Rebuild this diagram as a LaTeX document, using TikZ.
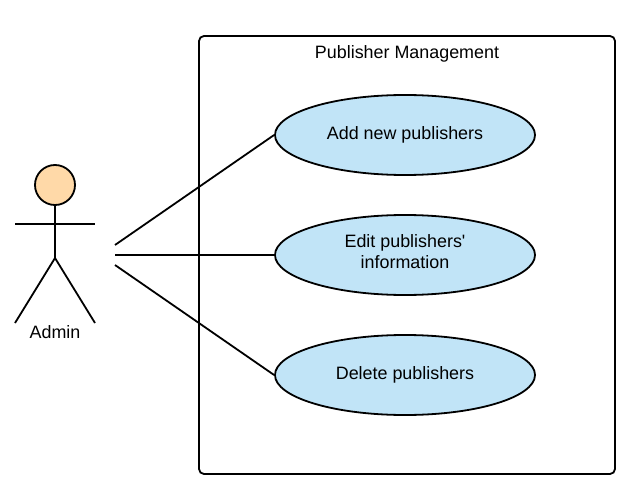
\documentclass[tikz,border=0pt]{standalone}
\usepackage{fontspec}
\setmainfont{Liberation Sans}
\newfontfamily\straightfont{Liberation Sans}
\usetikzlibrary{shapes.geometric}
\definecolor{usecase}{HTML}{C1E4F7}
\definecolor{headfill}{HTML}{FFD9A8}
\tikzset{
  ln/.style={line width=1.8pt,black},
  usecasebox/.style={ellipse,draw=black,line width=1.8pt,fill=usecase,minimum width=260pt,minimum height=80pt,inner sep=0pt,align=center,font=\fontsize{17.9pt}{21pt}\selectfont},
  lbl/.style={inner sep=0pt,font=\fontsize{17.9pt}{21pt}\selectfont\straightfont,anchor=center},
  framebox/.style={draw=black,line width=1.8pt,rounded corners=5pt,fill=white,minimum width=416pt,minimum height=438pt,inner sep=0pt},
  headbox/.style={circle,draw=black,line width=1.8pt,fill=headfill,minimum size=40pt,inner sep=0pt}
}
\begin{document}
\begin{tikzpicture}[x=1pt,y=-1pt]
\useasboundingbox (0,0) rectangle (637,497);
\node[framebox] (frame) at (407,255) {};
\node[lbl] (title) at (407,54) {Publisher Management};
\node[usecasebox] (u1) at (405,135) {Add new publishers};
\node[usecasebox] (u2) at (405,255) {};
\node[lbl,align=center] (u2text) at (405,252) {Edit publishers'\\information};
\node[usecasebox] (u3) at (405,375) {Delete publishers};
\node[headbox] (head) at (55,185) {};
\coordinate (hip) at (55,258);
\coordinate (armL) at (15,224);
\coordinate (armR) at (95,224);
\coordinate (legL) at (15,323);
\coordinate (legR) at (95,323);
\draw[ln] (head.south) -- (hip);
\draw[ln] (armL) -- (armR);
\draw[ln] (legL) -- (hip) -- (legR);
\node[lbl] (admin) at (55,332) {Admin};
\coordinate (c1) at (115,245);
\coordinate (c2) at (115,255);
\coordinate (c3) at (115,265);
\draw[ln] (c1) -- (u1.west);
\draw[ln] (c2) -- (u2.west);
\draw[ln] (c3) -- (u3.west);
\end{tikzpicture}
\end{document}
